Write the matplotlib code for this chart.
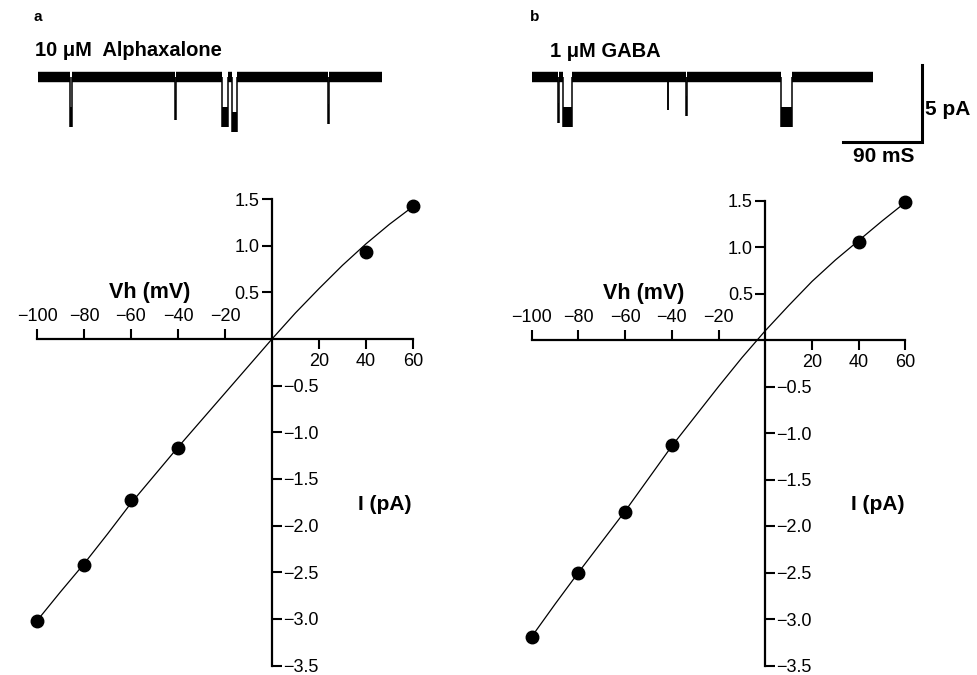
import matplotlib
matplotlib.use("Agg")
import matplotlib.pyplot as plt

plt.rcParams["font.family"] = ["Liberation Sans", "DejaVu Sans"]

# I-V data (Vh in mV, I in pA)
vh = [-100, -80, -60, -40, 40, 60]
i_alpha = [-3.02, -2.42, -1.73, -1.17, 0.93, 1.43]
i_gaba = [-3.19, -2.50, -1.85, -1.13, 1.05, 1.48]

# fitted curves, every 10 mV
fit_v = [-100, -90, -80, -70, -60, -50, -40, -30, -20, -10,
         0, 10, 20, 30, 40, 50, 60]
fit_alpha = [-3.02, -2.71, -2.41, -2.09, -1.76, -1.46, -1.16, -0.87, -0.58,
             -0.29, 0.0, 0.28, 0.54, 0.79, 1.02, 1.23, 1.42]
fit_gaba = [-3.19, -2.84, -2.50, -2.17, -1.84, -1.49, -1.14, -0.82, -0.50,
            -0.19, 0.10, 0.37, 0.63, 0.86, 1.07, 1.28, 1.48]

x_neg = [-100, -80, -60, -40, -20]
x_pos = [20, 40, 60]
y_pos = [0.5, 1.0, 1.5]
y_neg = [-0.5, -1.0, -1.5, -2.0, -2.5, -3.0, -3.5]

# single channel openings: (start ms, duration ms, deepest point pA)
events_alpha = [(37.0, 2.3, -3.25), (156.1, 1.1, -2.79), (209.3, 7.5, -3.23),
                (220.7, 5.7, -3.55), (330.4, 1.1, -3.07)]
events_gaba = [(29.6, 1.2, -3.00), (36.0, 9.6, -3.23), (154.9, 0.9, -2.14),
               (176.3, 1.0, -2.53), (283.7, 12.5, -3.23)]
len_alpha = 391.9
len_gaba = 388.5

W, H = 977, 675
fig = plt.figure(figsize=(W / 100, H / 100), dpi=100)


def fmt(v, nd):
    return f"{v:.{nd}f}".replace("-", "\u2212")


def iv_panel(x0, y0, sx, sy, v, cur, fv, fc):
    xlim = (-106, 66)
    ylim = (-3.6, 1.6)
    left = (x0 + xlim[0] * sx) / W
    width = (xlim[1] - xlim[0]) * sx / W
    top_px = y0 - ylim[1] * sy
    bot_px = y0 - ylim[0] * sy
    ax = fig.add_axes([left, 1 - bot_px / H, width, (bot_px - top_px) / H])
    ax.set_xlim(xlim)
    ax.set_ylim(ylim)
    ax.patch.set_visible(False)
    for s in ["left", "right", "top", "bottom"]:
        ax.spines[s].set_position(("data", 0))
        ax.spines[s].set_linewidth(1.6)
    ax.spines["top"].set_visible(False)
    ax.spines["right"].set_visible(False)
    ax.spines["bottom"].set_bounds(-100, 60)
    ax.spines["left"].set_bounds(-3.5, 1.5)

    ax.set_xticks(x_pos, [fmt(t, 0) for t in x_pos])
    ax.set_xticks(x_neg, [fmt(t, 0) for t in x_neg], minor=True)
    ax.set_yticks(y_pos, [fmt(t, 1) for t in y_pos])
    ax.set_yticks(y_neg, [fmt(t, 1) for t in y_neg], minor=True)
    ax.tick_params(axis="x", which="major", bottom=True, top=False,
                   labelbottom=True, labeltop=False, pad=3)
    ax.tick_params(axis="x", which="minor", bottom=False, top=True,
                   labelbottom=False, labeltop=True, pad=3)
    ax.tick_params(axis="y", which="major", left=True, right=False,
                   labelleft=True, labelright=False, pad=2)
    ax.tick_params(axis="y", which="minor", left=False, right=True,
                   labelleft=False, labelright=True, pad=1)
    ax.tick_params(which="both", direction="out", length=7, width=1.5,
                   labelsize=13)

    ax.plot(fv, fc, color="black", lw=0.9)
    ax.plot(v, cur, "o", color="black", ms=9)
    ax.text(-52, 0.5, "Vh (mV)", fontsize=15.5, fontweight="bold",
            ha="center", va="center")
    ax.text(48, -1.77, "I (pA)", fontsize=15, fontweight="bold",
            ha="center", va="center")
    return ax


iv_panel(272, 339, 2.35, 93.3, vh, i_alpha, fit_v, fit_alpha)
iv_panel(765.3, 340, 2.336, 93.0, vh, i_gaba, fit_v, fit_gaba)

# trace axes: 90 ms = 79 px, 5 pA = 77 px, baseline at y px 77
MS_PER_PX = 90 / 79
PA_PER_PX = 5 / 77


def trace_axes(left_px, width_px):
    top_px, bot_px = 30, 170
    ax = fig.add_axes([left_px / W, 1 - bot_px / H, width_px / W,
                       (bot_px - top_px) / H])
    ax.set_xlim(0, width_px * MS_PER_PX)
    ax.set_ylim(-(bot_px - 77) * PA_PER_PX, (77 - top_px) * PA_PER_PX)
    ax.axis("off")
    return ax


def draw_trace(ax, length, events):
    starts = [0] + [s + d for s, d, _ in events]
    ends = [s for s, _, _ in events] + [length]
    ax.hlines([0] * len(starts), starts, ends, color="black", lw=7.5)
    for s, d, low in events:
        ax.vlines([s, s + d], [low, low], [0, 0], color="black", lw=1.1)
        # noisy open level
        ax.bar(s, 1.3, bottom=low, width=d, align="edge", color="black", lw=0)


ta = trace_axes(38, 350)
draw_trace(ta, len_alpha, events_alpha)
tb = trace_axes(531.7, 440)
draw_trace(tb, len_gaba, events_gaba)

# scale bar
bar_x, bar_y = 444.6, -4.22
tb.plot([bar_x - 90, bar_x, bar_x], [bar_y, bar_y, bar_y + 5],
        color="black", lw=2.2, solid_joinstyle="miter")
tb.text(bar_x + 4, bar_y + 2.1, "5 pA", fontsize=15, fontweight="bold",
        ha="left", va="center")
tb.text(bar_x - 44, bar_y - 0.92, "90 mS", fontsize=15, fontweight="bold",
        ha="center", va="center")

fig.text(33 / W, 1 - 21 / H, "a", fontsize=11, fontweight="bold",
         ha="left", va="baseline")
fig.text(530 / W, 1 - 21 / H, "b", fontsize=11, fontweight="bold",
         ha="left", va="baseline")
fig.text(35 / W, 1 - 56 / H, "10 \u03bcM  Alphaxalone", fontsize=14.5,
         fontweight="bold", ha="left", va="baseline")
fig.text(550 / W, 1 - 57 / H, "1 \u03bcM GABA", fontsize=14.5,
         fontweight="bold", ha="left", va="baseline")

fig.savefig("out.png", dpi=100)
